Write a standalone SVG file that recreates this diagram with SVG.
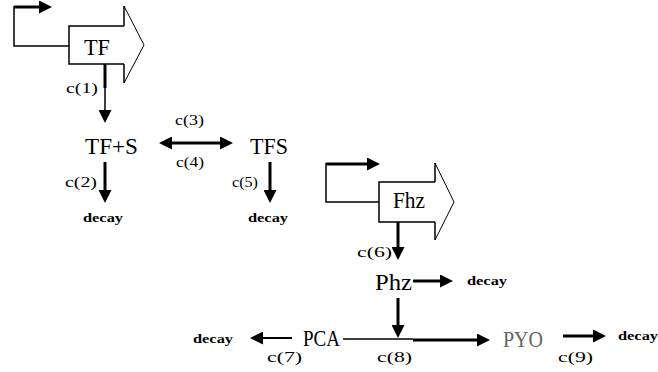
<svg xmlns="http://www.w3.org/2000/svg" width="658" height="372" viewBox="0 0 658 372">
<style>
text{font-family:"Liberation Serif","Times New Roman",Tinos,"Nimbus Roman","Noto Serif","DejaVu Serif",FreeSerif,serif;fill:#000}
.lbl{font-size:23px}
.rate{font-size:15px}
.decay{font-size:12px;font-weight:bold}
.thick{stroke:#000;stroke-width:3;fill:none}
.mid{stroke:#000;stroke-width:2;fill:none}
.thin{stroke:#000;stroke-width:1.5;fill:none}
.head{stroke:#000;stroke-width:1;fill:none}
</style>
<defs>
<marker id="ah" markerUnits="userSpaceOnUse" viewBox="0 0 13 13" markerWidth="13" markerHeight="13" refX="0" refY="6.5" orient="auto-start-reverse">
<path d="M0,0 L13,6.5 L0,13 Z" fill="#000"/>
</marker>
</defs>
<rect width="658" height="372" fill="#fff"/>

<g id="gene-TF">
<path class="thin" d="M69,46 H14 V6"/>
<path class="thick" d="M14,7 H39" marker-end="url(#ah)"/>
<path fill="#fff" stroke="none" d="M69,26 H124 V6 L144,45 L124,83 V64 H69 Z"/>
<path class="thin" d="M124,26 H69 V64 H124"/>
<path class="thin" d="M124,26 V6 M124,64 V83"/>
<path class="head" d="M124,6 L144,45 L124,83"/>
<text class="lbl" x="84" y="55" textLength="26" lengthAdjust="spacingAndGlyphs">TF</text>
</g>

<g id="TF_S"><text class="lbl" x="85" y="154" textLength="53" lengthAdjust="spacingAndGlyphs">TF+S</text></g>
<g id="TFS"><text class="lbl" x="250" y="154" textLength="38" lengthAdjust="spacingAndGlyphs">TFS</text></g>

<g id="gene-Phz">
<path class="thin" d="M379,202 H326 V163"/>
<path class="thick" d="M326,164 H367" marker-end="url(#ah)"/>
<path fill="#fff" stroke="none" d="M379,182 H435 V163 L454,202 L435,240 V222 H379 Z"/>
<path class="thin" d="M435,182 H379 V222 H435"/>
<path class="thin" d="M435,182 V163 M435,222 V240"/>
<path class="head" d="M435,163 L454,202 L435,240"/>
<text class="lbl" x="393" y="208" textLength="32" lengthAdjust="spacingAndGlyphs">Fhz</text>
</g>

<g id="Phz"><text class="lbl" x="375" y="290" textLength="37" lengthAdjust="spacingAndGlyphs">Phz</text></g>
<g id="PCA"><text class="lbl" x="303" y="346" textLength="37" lengthAdjust="spacingAndGlyphs">PCA</text></g>
<g id="PYO"><text class="lbl" x="503" y="347" textLength="40" lengthAdjust="spacingAndGlyphs" style="fill:#666">PYO</text></g>

<g id="decay1"><text class="decay" x="83" y="222" textLength="40" lengthAdjust="spacingAndGlyphs">decay</text></g>
<g id="decay2"><text class="decay" x="248" y="222" textLength="40" lengthAdjust="spacingAndGlyphs">decay</text></g>
<g id="decay3"><text class="decay" x="467" y="285" textLength="40" lengthAdjust="spacingAndGlyphs">decay</text></g>
<g id="decay4"><text class="decay" x="193" y="343" textLength="40" lengthAdjust="spacingAndGlyphs">decay</text></g>
<g id="decay5"><text class="decay" x="618" y="340" textLength="40" lengthAdjust="spacingAndGlyphs">decay</text></g>

<g id="connectors">
<path class="thick" d="M105,64 V88"/>
<path class="thin" d="M105,88 V110" marker-end="url(#ah)"/>
<text class="rate" x="66" y="93" textLength="32" lengthAdjust="spacingAndGlyphs">c(1)</text>

<path class="thick" d="M105,162 V190" marker-end="url(#ah)"/>
<text class="rate" x="65" y="187" textLength="32" lengthAdjust="spacingAndGlyphs">c(2)</text>

<path class="thick" d="M172,143 H220" marker-start="url(#ah)" marker-end="url(#ah)"/>
<text class="rate" x="175" y="125" textLength="29" lengthAdjust="spacingAndGlyphs">c(3)</text>
<text class="rate" x="176" y="167" textLength="28" lengthAdjust="spacingAndGlyphs">c(4)</text>

<path class="thick" d="M270,162 V190" marker-end="url(#ah)"/>
<text class="rate" x="232" y="187" textLength="26" lengthAdjust="spacingAndGlyphs">c(5)</text>

<path class="thick" d="M398,222 V247" marker-end="url(#ah)"/>
<text class="rate" x="357" y="257" textLength="35" lengthAdjust="spacingAndGlyphs">c(6)</text>

<path class="thick" d="M413,281 H440" marker-end="url(#ah)"/>

<path class="thick" d="M398,298 V325" marker-end="url(#ah)"/>
<path class="thin" d="M343,339 H413"/>
<path class="thick" d="M413,340 H477" marker-end="url(#ah)"/>
<text class="rate" x="377" y="362" textLength="35" lengthAdjust="spacingAndGlyphs">c(8)</text>

<path class="mid" d="M292,338 H263" marker-end="url(#ah)"/>
<text class="rate" x="267" y="362" textLength="35" lengthAdjust="spacingAndGlyphs">c(7)</text>

<path class="thick" d="M563,336 H593" marker-end="url(#ah)"/>
<text class="rate" x="558" y="362" textLength="35" lengthAdjust="spacingAndGlyphs">c(9)</text>
</g>
</svg>
